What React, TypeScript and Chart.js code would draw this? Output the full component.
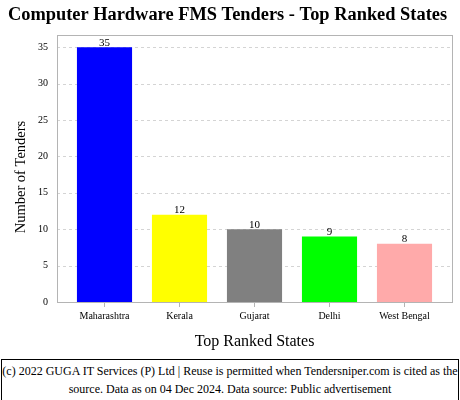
import React, { useEffect, useRef } from "react";
import { Chart, registerables } from "chart.js";

Chart.register(...registerables);

const categories = ["Maharashtra", "Kerala", "Gujarat", "Delhi", "West Bengal"];
const tenderCounts = [35, 12, 10, 9, 8];
const barColors = ["#0000ff", "#ffff00", "#808080", "#00ff00", "#ffaaaa"];
const yTicks = [0, 5, 10, 15, 20, 25, 30, 35];

const titleText = "Computer Hardware FMS Tenders - Top Ranked States";
const xTitle = "Top Ranked States";
const yTitle = "Number of Tenders";
const footerLines = [
  "(c) 2022 GUGA IT Services (P) Ltd | Reuse is permitted when Tendersniper.com is cited as the",
  "source. Data as on 04 Dec 2024. Data source: Public advertisement",
];

const SERIF = "'Liberation Serif', 'Times New Roman', serif";
const INSET = 10;

export default function App() {
  const ref = useRef<HTMLCanvasElement | null>(null);

  useEffect(() => {
    document.body.style.margin = "0";
    const canvas = ref.current;
    if (!canvas) return;

    const decor = {
      id: "decor",
      beforeDraw(chart: any) {
        const { ctx, chartArea } = chart;
        ctx.save();
        ctx.fillStyle = "#ffffff";
        ctx.fillRect(0, 0, chart.width, chart.height);
        // dashed grid lines across the full frame
        const yScale = chart.scales.y;
        const left = Math.round(chartArea.left) - INSET;
        const right = Math.round(chartArea.right) + INSET;
        ctx.strokeStyle = "#d4d4d4";
        ctx.lineWidth = 1;
        ctx.setLineDash([3, 3]);
        yTicks.forEach((v) => {
          if (v === 0) return;
          const y = Math.round(yScale.getPixelForValue(v)) + 0.5;
          ctx.beginPath();
          ctx.moveTo(left, y);
          ctx.lineTo(right, y);
          ctx.stroke();
        });
        ctx.restore();
      },
      afterDraw(chart: any) {
        const { ctx, chartArea } = chart;
        ctx.save();
        ctx.strokeStyle = "#b4b4b4";
        ctx.lineWidth = 1;
        const left = Math.round(chartArea.left) - INSET;
        const right = Math.round(chartArea.right) + INSET;
        ctx.strokeRect(
          left + 0.5,
          Math.round(chartArea.top) + 0.5,
          right - left,
          Math.round(chartArea.bottom - chartArea.top)
        );
        // title
        ctx.fillStyle = "#000";
        ctx.font = `bold 18.4px ${SERIF}`;
        ctx.textAlign = "center";
        ctx.textBaseline = "middle";
        ctx.fillText(titleText, 227.5, 15);
        // y axis title
        ctx.save();
        ctx.translate(21, 177);
        ctx.rotate(-Math.PI / 2);
        ctx.font = `14.5px ${SERIF}`;
        ctx.fillText(yTitle, 0, 0);
        ctx.restore();
        // data labels
        const meta = chart.getDatasetMeta(0);
        ctx.font = `11px ${SERIF}`;
        ctx.textBaseline = "bottom";
        meta.data.forEach((bar: any, i: number) => {
          ctx.fillText(String(tenderCounts[i]), bar.x, bar.y + 1);
        });
        ctx.restore();
      },
    };

    const chart = new Chart(canvas, {
      type: "bar",
      data: {
        labels: categories,
        datasets: [
          {
            data: tenderCounts,
            backgroundColor: barColors,
            borderWidth: 0,
            categoryPercentage: 0.735,
            barPercentage: 1,
          },
        ],
      },
      options: {
        animation: false,
        responsive: false,
        devicePixelRatio: 1,
        layout: { padding: { top: 35, right: 18, left: 0, bottom: 0 } },
        plugins: {
          legend: { display: false },
          title: { display: false },
          tooltip: { enabled: false },
        },
        scales: {
          x: {
            grid: {
              offset: false,
              drawOnChartArea: false,
              drawTicks: true,
              tickLength: 5,
              color: "#b4b4b4",
            },
            border: { display: false },
            ticks: {
              color: "#000",
              font: { family: SERIF, size: 10 },
              padding: 3,
              maxRotation: 0,
            },
            title: {
              display: true,
              text: xTitle,
              color: "#000",
              font: { family: SERIF, size: 16 },
              padding: { top: 14, bottom: 3 },
            },
            afterFit(scale: any) {
              scale.height = 52;
            },
          },
          y: {
            min: 0,
            max: 36.7,
            afterBuildTicks(scale: any) {
              scale.ticks = yTicks.map((v) => ({ value: v }));
            },
            grid: {
              display: false,
              drawTicks: false,
            },
            border: { display: false },
            ticks: {
              color: "#000",
              font: { family: SERIF, size: 10 },
              padding: 19,
            },
            title: { display: false },
            afterFit(scale: any) {
              scale.width = 67;
            },
          },
        },
      },
      plugins: [decor],
    } as any);

    return () => chart.destroy();
  }, []);

  return (
    <div style={{ position: "relative", width: 460, height: 400, background: "#fff" }}>
      <canvas ref={ref} width={460} height={354} style={{ display: "block" }} />
      <div
        style={{
          position: "absolute",
          left: 1,
          top: 359,
          width: 456,
          height: 38,
          border: "1px solid #000",
          fontFamily: SERIF,
          fontSize: 12,
          lineHeight: "18px",
          textAlign: "center",
          whiteSpace: "nowrap",
          overflow: "hidden",
          paddingTop: 2,
          boxSizing: "content-box",
        }}
      >
        <div>{footerLines[0]}</div>
        <div>{footerLines[1]}</div>
      </div>
    </div>
  );
}
